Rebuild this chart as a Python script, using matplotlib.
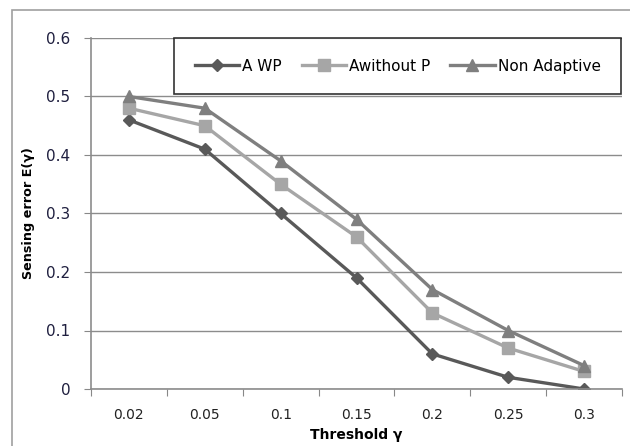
import matplotlib.pyplot as plt
from matplotlib.patches import Rectangle

# data
thresholds = ['0.02', '0.05', '0.1', '0.15', '0.2', '0.25', '0.3']
awp = [0.46, 0.41, 0.30, 0.19, 0.06, 0.02, 0.0]
awithout_p = [0.48, 0.45, 0.35, 0.26, 0.13, 0.07, 0.03]
non_adaptive = [0.50, 0.48, 0.39, 0.29, 0.17, 0.10, 0.04]

fig = plt.figure(figsize=(6.3, 4.46), dpi=100)
ax = fig.add_axes([91/630, 1 - 389/446, (622 - 91)/630, (389 - 38)/446])

# outer chart frame
fig.patches.append(Rectangle((12/630, -0.1), 1.2, 1 - 10/446 + 0.1, transform=fig.transFigure,
                             fill=False, edgecolor='#a0a0a0', linewidth=1.2))

x = range(len(thresholds))
ax.plot(x, awp, color='#595959', marker='D', markersize=6.5, linewidth=2.4, label='A WP')
ax.plot(x, awithout_p, color='#a6a6a6', marker='s', markersize=8, linewidth=2.4, label='Awithout P')
ax.plot(x, non_adaptive, color='#7f7f7f', marker='^', markersize=9, linewidth=2.4, label='Non Adaptive')

ax.set_xlim(-0.5, len(thresholds) - 0.5)
ax.set_ylim(0, 0.6)
ax.set_yticks([0, 0.1, 0.2, 0.3, 0.4, 0.5, 0.6])
ax.set_yticklabels(['0', '0.1', '0.2', '0.3', '0.4', '0.5', '0.6'], fontsize=11, color='#1f1f3f')
ax.set_xticks([i - 0.5 for i in range(len(thresholds) + 1)])
ax.set_xticklabels([])
ax.set_xticks(list(x), minor=True)
ax.set_xticklabels(thresholds, minor=True, fontsize=10, color='#222222')
ax.tick_params(axis='x', which='major', length=5, color='#888888')
ax.tick_params(axis='x', which='minor', length=0, pad=14)
ax.tick_params(axis='y', length=5, color='#888888', pad=10)

ax.grid(axis='y', color='#8c8c8c', linewidth=1)
ax.set_axisbelow(True)
for s in ['top', 'right']:
    ax.spines[s].set_visible(False)
for s in ['left', 'bottom']:
    ax.spines[s].set_color('#8c8c8c')
    ax.spines[s].set_linewidth(1.2)

ax.set_xlabel('Threshold γ', fontsize=10, fontweight='bold', labelpad=4)
ax.set_ylabel('Sensing error E(γ)', fontsize=9.2, fontweight='bold', labelpad=8)

leg = ax.legend(loc='upper right', ncol=3, bbox_to_anchor=(0.9985, 1.0), fontsize=11,
                frameon=True, fancybox=False, borderpad=1.35, columnspacing=1.3,
                handlelength=2.9, handletextpad=0.2, borderaxespad=0)
leg.get_frame().set_edgecolor('black')
leg.get_frame().set_linewidth(1.2)

fig.savefig('out.png', dpi=100)
